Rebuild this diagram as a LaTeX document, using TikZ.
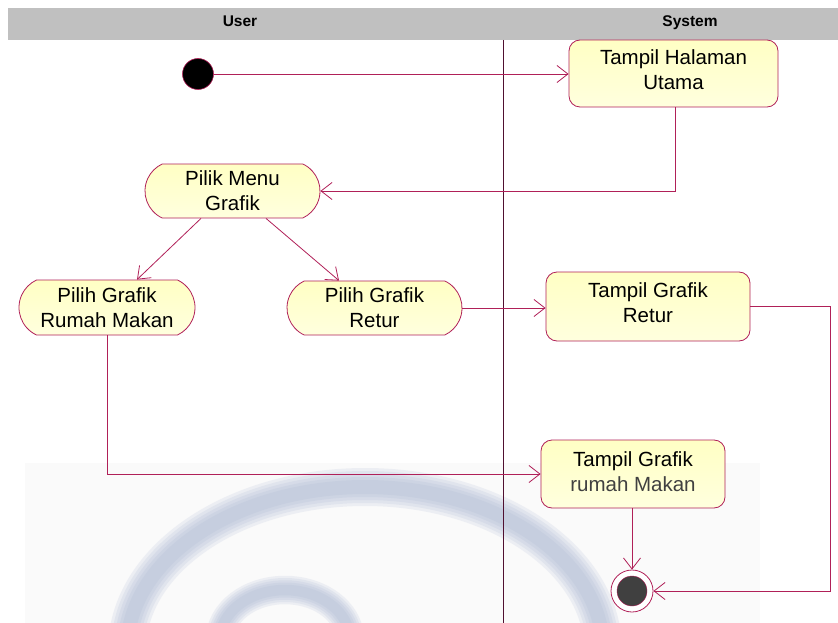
\documentclass[tikz,border=0pt]{standalone}
\usepackage{fontspec}
\setmainfont{Liberation Sans}
\usetikzlibrary{arrows.meta,shapes.misc}
\definecolor{edgecol}{RGB}{176,32,88}
\definecolor{actfilltop}{RGB}{255,255,196}
\definecolor{actfillbot}{RGB}{255,255,222}
\definecolor{hdrgray}{RGB}{192,192,192}
\definecolor{lanecol}{RGB}{80,16,48}
\definecolor{finalfill}{RGB}{64,64,64}
\definecolor{markcol}{RGB}{160,173,205}
\definecolor{subtext}{RGB}{64,64,64}

\begin{document}
\begin{tikzpicture}[x=1pt,y=-1pt,
  every node/.style={font=\fontsize{20.5}{25}\selectfont, align=center, inner sep=0pt},
  sysbox/.style={draw=edgecol, line width=0.8pt, top color=actfilltop, bottom color=actfillbot, rounded corners=11pt},
  usrbox/.style={draw=edgecol, line width=0.8pt, top color=actfilltop, bottom color=actfillbot,
                 rounded rectangle, rounded rectangle arc length=130},
  flow/.style={draw=edgecol, line width=0.8pt, -{Straight Barb[length=11pt,width=17pt]}},
  lanehead/.style={font=\fontsize{15.5}{18}\selectfont\bfseries, anchor=base},
  logomark/.style={draw=markcol, line cap=round, opacity=0.15}]

\useasboundingbox (0,0) rectangle (838,623);

% faint backdrop and soft logo swirl behind the lower part
\fill[black!2] (25,463) rectangle (760,623);
\foreach \w in {38,32,26,20,14}{
  \draw[logomark, line width=\w pt] (127,650) arc[start angle=180, end angle=0, x radius=238pt, y radius=163pt];
  \draw[logomark, line width=0.75*\w pt] (220,640) arc[start angle=180, end angle=10, x radius=65pt, y radius=50pt];
}

% swimlane header and separator
\fill[hdrgray] (8,8) rectangle (838,40);
\node[lanehead] (userhd) at (240,27) {User};
\node[lanehead] (syshd) at (690,27) {System};
\draw[lanecol, line width=0.7pt] (503,40) -- (503,623);

% initial and final states
\node[circle, draw=edgecol, fill=black, line width=0.6pt, minimum size=31pt] (start) at (198,74) {};
\node[circle, draw=edgecol, fill=white, line width=0.8pt, minimum size=42pt] (final) at (632,591) {};
\node[circle, draw=edgecol, fill=finalfill, line width=0.4pt, minimum size=30pt] (finalin) at (final.center) {};

% system actions
\node[sysbox, minimum width=209pt, minimum height=67pt] (home) at (673.5,73.5) {};
\node (hometxt) at ([yshift=4pt]home.center) {Tampil Halaman\\Utama};
\node[sysbox, minimum width=204pt, minimum height=69pt] (returbox) at (648,306.5) {};
\node (returtxt) at ([yshift=4pt]returbox.center) {Tampil Grafik\\Retur};
\node[sysbox, minimum width=184pt, minimum height=68pt] (rmbox) at (633,474) {};
\node (rmtxt) at ([yshift=2pt]rmbox.center) {Tampil Grafik\\\textcolor{subtext}{rumah Makan}};

% user actions
\node[usrbox, minimum width=175pt, minimum height=54pt] (menu) at (232.5,191) {Pilik Menu\\Grafik};
\node[usrbox, minimum width=176pt, minimum height=55pt] (rm) at (107,307.5) {Pilih Grafik\\Rumah Makan};
\node[usrbox, minimum width=175pt, minimum height=54pt] (retur) at (374.5,308) {Pilih Grafik\\Retur};

% control flow
\coordinate (rtturn) at (830,306.5);
\draw[flow] (start.east) -- (start.east -| home.west);
\draw[flow] ([xshift=1.5pt]home.south) |- (menu.east);
\draw[flow] ([xshift=-31.5pt]menu.south) -- ([xshift=30pt]rm.north);
\draw[flow] ([xshift=33.5pt]menu.south) -- ([xshift=-35.5pt]retur.north);
\draw[flow] (retur.east) -- (retur.east -| returbox.west);
\draw[flow] (returbox.east) -- (rtturn) |- (final.east);
\draw[flow] (rm.south) |- (rmbox.west);
\draw[flow] (final.north |- rmbox.south) -- (final.north);
\end{tikzpicture}
\end{document}
